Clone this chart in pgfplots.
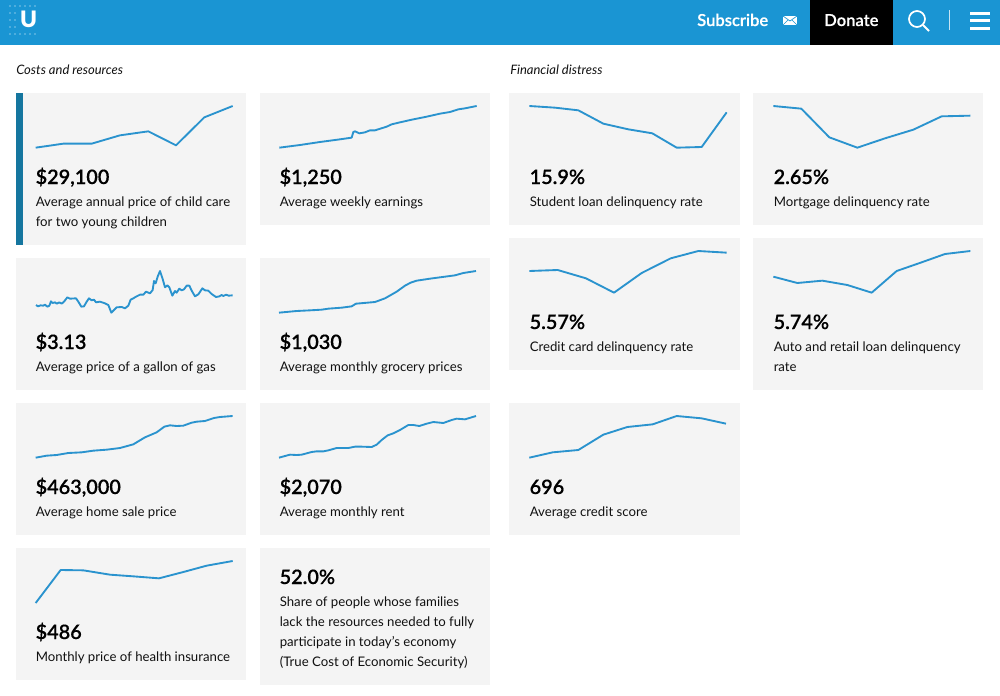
\documentclass[border=0pt]{standalone}
\usepackage{fontspec}
\setmainfont{Lato}
\newfontfamily\medfont[FakeBold=0.35]{Lato Semibold}
\newfontfamily\logofont{Lato Black}
\usepackage{pgfplots}
\pgfplotsset{compat=1.18}
\definecolor{HeadBlue}{HTML}{1A95D3}
\definecolor{LineBlue}{HTML}{2A93CE}
\definecolor{Accent}{HTML}{15769F}
\definecolor{Panel}{HTML}{F4F4F4}
\definecolor{Ink}{HTML}{111111}

% picture is laid out in reference pixels, 1px = 0.75pt
\pgfplotsset{spark/.style={
	scale only axis, width=148.5pt, height=32.25pt,
	xmin=0, xmax=594, ymin=0, ymax=129,
	hide axis, clip=false, anchor=south west}}
% #1 left, #2 bottom of the line area, #3 coordinates (x 0-594, y 0-129)
\newcommand{\spark}[3]{%
	\begin{axis}[spark, at={({#1*0.75pt},{-#2*0.75pt})}]
		\addplot[color=LineBlue, line width=1.4pt, line join=round, no markers] coordinates {#3};
	\end{axis}}
\newcommand{\panel}[4]{\fill[Panel] (#1,#2) rectangle (#3,#4);}
\newcommand{\val}[3]{\node[anchor=base west, inner sep=0pt, text=black] at (#1-0.6,#2) {\fontsize{14.9pt}{18pt}\medfont #3};}
\newcommand{\lab}[3]{\node[anchor=base west, inner sep=0pt, text=Ink] at (#1-0.5,#2) {\fontsize{9.9pt}{12pt}\selectfont #3};}

\begin{document}
\begin{tikzpicture}[x=0.75pt, y=-0.75pt]
\path[use as bounding box] (0,0) rectangle (1000,696);

% header
\fill[HeadBlue] (0,0) rectangle (1000,45);
\fill[black] (810,0) rectangle (893,45);
\node[anchor=base, inner sep=0pt, text=white] at (28.5,27) {\fontsize{17pt}{18pt}\logofont U};
\foreach \x in {10,15,20,25,30,35} {
	\fill[white] (\x,6) circle (0.6);
	\fill[white] (\x,34) circle (0.6);
}
\foreach \y in {13,20,27} {
	\fill[white] (10,\y) circle (0.6);
	\fill[white] (15,\y) circle (0.6);
}
\node[anchor=base west, inner sep=0pt, text=white] at (697,26) {\fontsize{12.4pt}{15pt}\medfont Subscribe};
\fill[white] (783,16) rectangle (797,25);
\draw[HeadBlue, line width=0.5pt] (783,16) -- (790,21) -- (797,16) (783,25) -- (788,20) (797,25) -- (792,20);
\node[anchor=base west, inner sep=0pt, text=white] at (824,26) {\fontsize{12.4pt}{15pt}\medfont Donate};
\draw[white, line width=1.3pt] (917,19) circle (8);
\draw[white, line width=1.5pt] (923,25) -- (929,31);
\draw[white!75!HeadBlue, line width=0.6pt] (949.5,10) -- (949.5,30);
\fill[white] (970,11.5) rectangle (990,14.5);
\fill[white] (970,18.5) rectangle (990,21.5);
\fill[white] (970,26.5) rectangle (990,29.5);

% section titles
\node[anchor=base west, inner sep=0pt, text=Ink] at (16,74) {\fontsize{9.75pt}{11pt}\itshape Costs and resources};
\node[anchor=base west, inner sep=0pt, text=Ink] at (510,74) {\fontsize{9.75pt}{11pt}\itshape Financial distress};

% panels
\panel{16}{93}{246}{244.5}
\fill[Accent] (16,93) rectangle (22.5,244.5);
\panel{259.5}{93}{489.5}{224.5}
\panel{16}{258}{246}{389.5}
\panel{259.5}{258}{489.5}{389.5}
\panel{16}{403}{246}{534.5}
\panel{259.5}{403}{489.5}{534.5}
\panel{16}{548}{246}{679.5}
\panel{259.5}{548}{489.5}{684.5}
\panel{509.3}{93}{740}{224.5}
\panel{753.3}{93}{983.3}{224.5}
\panel{509.3}{238}{740}{369.5}
\panel{753.3}{238}{983.3}{389.5}
\panel{509.3}{403}{740}{534.5}

% child care
\spark{35}{148}{(2,1) (85,13) (170,13) (255,38) (340,50) (423,8) (508,92) (593,126)}
\val{36}{184}{\$29,100}
\lab{36}{206}{Average annual price of child care}
\lab{36}{226}{for two young children}

% weekly earnings
\spark{279}{148}{(1,1) (63,9) (123,18) (183,26) (218,31) (223,48) (228,50) (241,44) (258,47) (273,53) (288,53) (323,64) (338,71) (363,77) (403,86) (443,94) (483,103) (513,108) (538,116) (558,119) (593,126)}
\val{280}{184}{\$1,250}
\lab{280}{206}{Average weekly earnings}

% gas
\spark{35}{313}{(3,24) (9,20) (17,23) (25,22) (30,25) (37,19) (43,22) (48,35) (53,30) (60,32) (65,28) (73,32) (80,28) (87,34) (97,47) (105,43) (123,44) (130,34) (139,19) (147,20) (155,34) (162,44) (170,38) (177,40) (183,32) (195,34) (210,29) (220,24) (229,1) (237,9) (245,17) (260,18) (270,14) (280,22) (287,40) (295,44) (303,49) (315,55) (325,55) (333,64) (345,59) (353,69) (357,96) (362,89) (368,109) (375,126) (383,102) (390,77) (397,83) (403,77) (412,52) (420,66) (425,61) (433,73) (440,68) (447,71) (455,82) (463,82) (470,67) (480,50) (490,56) (502,74) (510,68) (520,67) (530,57) (543,48) (553,50) (560,54) (565,51) (573,55) (581,52) (593,53)}
\val{36}{349}{\$3.13}
\lab{36}{371}{Average price of a gallon of gas}

% grocery
\spark{279}{313}{(0,1) (53,6) (93,8) (128,10) (148,13) (188,16) (218,20) (231,28) (243,29) (288,33) (318,44) (353,64) (378,82) (395,91) (413,97) (453,103) (483,107) (528,113) (553,120) (591,126)}
\val{280}{349}{\$1,030}
\lab{280}{371}{Average monthly grocery prices}

% home price
\spark{35}{458}{(2,1) (35,7) (65,9) (100,15) (140,17) (175,22) (215,25) (255,30) (295,41) (310,50) (330,62) (365,77) (388,94) (405,98) (425,96) (445,97) (470,106) (485,109) (510,111) (537,120) (555,123) (593,126)}
\val{36}{494}{\$463,000}
\lab{36}{516}{Average home sale price}

% rent
\spark{279}{458}{(0,1) (18,6) (33,10) (53,9) (68,10) (98,18) (113,20) (133,20) (148,23) (173,30) (208,30) (228,34) (248,34) (278,33) (293,40) (308,54) (326,68) (343,74) (363,84) (388,99) (403,99) (421,96) (443,103) (463,108) (493,105) (518,114) (533,118) (558,116) (591,126)}
\val{280}{494}{\$2,070}
\lab{280}{516}{Average monthly rent}

% health insurance
\spark{35}{603}{(2,0) (77,99) (145,98) (225,85) (295,80) (372,74) (445,93) (515,112) (593,126)}
\val{36}{639}{\$486}
\lab{36}{661}{Monthly price of health insurance}

% true cost panel, no line
\val{280}{584}{52.0\%}
\lab{280}{606}{Share of people whose families}
\lab{280}{626}{lack the resources needed to fully}
\lab{280}{646}{participate in today's economy}
\lab{280}{666}{(True Cost of Economic Security)}

% student loan
\spark{529}{148}{(1,126) (78,121) (148,113) (223,73) (298,56) (370,44) (443,1) (518,3) (593,107)}
\val{530}{184}{15.9\%}
\lab{530}{206}{Student loan delinquency rate}

% mortgage
\spark{773}{148}{(1,126) (85,118) (169,32) (253,1) (336,29) (421,55) (506,95) (592,97)}
\val{774}{184}{2.65\%}
\lab{774}{206}{Mortgage delinquency rate}

% credit card
\spark{529}{293}{(1,66) (86,69) (171,44) (255,1) (338,60) (425,104) (508,126) (593,121)}
\val{530}{329}{5.57\%}
\lab{530}{351}{Credit card delinquency rate}

% auto
\spark{773}{293}{(1,49) (73,30) (148,37) (223,24) (296,1) (371,66) (443,91) (516,117) (592,126)}
\val{774}{329}{5.74\%}
\lab{774}{351}{Auto and retail loan delinquency}
\lab{774}{371}{rate}

% credit score
\spark{529}{458}{(1,1) (71,17) (148,24) (223,70) (295,93) (371,101) (443,126) (518,119) (591,103)}
\val{530}{494}{696}
\lab{530}{516}{Average credit score}

\end{tikzpicture}
\end{document}
